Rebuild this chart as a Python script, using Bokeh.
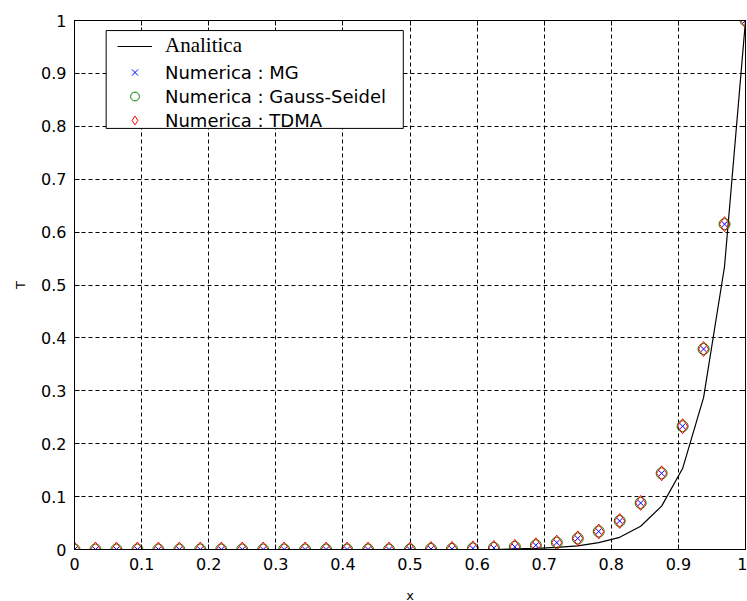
from bokeh.plotting import figure
from bokeh.models import (Legend, LegendItem, FixedTicker, BoxAnnotation,
                          LinearAxis, Range1d)
from bokeh.embed import file_html
from bokeh.resources import INLINE

# ---- data ----
x_nodes = [0, 0.03125, 0.0625, 0.09375, 0.125, 0.15625, 0.1875, 0.21875,
           0.25, 0.28125, 0.3125, 0.34375, 0.375, 0.40625, 0.4375, 0.46875,
           0.5, 0.53125, 0.5625, 0.59375, 0.625, 0.65625, 0.6875, 0.71875,
           0.75, 0.78125, 0.8125, 0.84375, 0.875, 0.90625, 0.9375, 0.96875, 1.0]

t_analitica = [0, 0, 0, 0, 0, 0, 0, 0, 0, 0, 0, 0, 0, 0, 0, 0, 0, 0, 0, 0, 0,
               0.001, 0.002, 0.004, 0.007, 0.013, 0.023, 0.044, 0.082, 0.153,
               0.287, 0.535, 1.0]

t_mg = [0, 0, 0, 0, 0, 0, 0, 0, 0, 0, 0, 0, 0, 0, 0, 0, 0,
        0.001, 0.001, 0.002, 0.003, 0.005, 0.008, 0.013, 0.021, 0.034,
        0.054, 0.088, 0.144, 0.233, 0.379, 0.615, 1.0]
t_gs = [0, 0, 0, 0, 0, 0, 0, 0, 0, 0, 0, 0, 0, 0, 0, 0, 0,
        0.001, 0.001, 0.002, 0.003, 0.005, 0.008, 0.013, 0.021, 0.034,
        0.054, 0.088, 0.144, 0.233, 0.379, 0.615, 1.0]
t_tdma = [0, 0, 0, 0, 0, 0, 0, 0, 0, 0, 0, 0, 0, 0, 0, 0, 0,
          0.001, 0.001, 0.002, 0.003, 0.005, 0.008, 0.013, 0.021, 0.034,
          0.054, 0.088, 0.144, 0.233, 0.379, 0.615, 1.0]

tick_values = [0, 0.1, 0.2, 0.3, 0.4, 0.5, 0.6, 0.7, 0.8, 0.9, 1]
tick_labels = ["0", "0.1", "0.2", "0.3", "0.4", "0.5", "0.6", "0.7", "0.8", "0.9", "1"]

series_labels = ["Analitica", "Numerica : MG", "Numerica : Gauss-Seidel", "Numerica : TDMA"]

# ---- figure ----
p = figure(frame_width=671, frame_height=529,
           x_range=Range1d(0, 1), y_range=Range1d(0, 1),
           output_backend="svg", toolbar_location=None,
           min_border_left=74, min_border_right=2,
           min_border_top=20, min_border_bottom=50,
           background_fill_color="white", border_fill_color="white")
p.outline_line_color = "black"
p.outline_line_alpha = 1
p.outline_line_width = 1

ticker = FixedTicker(ticks=tick_values)
overrides = {t: l for t, l in zip(tick_values, tick_labels)}
blank = {t: "" for t in tick_values}

for ax in (p.xaxis[0], p.yaxis[0]):
    ax.ticker = ticker
    ax.major_label_overrides = overrides
    ax.major_tick_in = 5
    ax.major_tick_out = 0
    ax.minor_tick_in = 0
    ax.minor_tick_out = 0
    ax.axis_line_color = "black"
    ax.major_tick_line_color = "black"
    ax.major_label_text_color = "black"
    ax.major_label_text_font = "DejaVu Sans"
    ax.major_label_text_font_size = "16px"
    ax.axis_label_text_font = "DejaVu Sans"
    ax.axis_label_text_font_size = "13px"
    ax.axis_label_text_font_style = "normal"
    ax.axis_label_text_color = "black"
    ax.major_label_standoff = 8

p.xaxis.axis_label = "x"
p.yaxis.axis_label = "T"
p.xaxis.axis_label_standoff = 15
p.yaxis.axis_label_standoff = 10

for loc in ("right", "above"):
    ax = LinearAxis(ticker=ticker, major_label_overrides=blank,
                    major_label_standoff=0, major_tick_in=5, major_tick_out=0,
                    minor_tick_in=0, minor_tick_out=0,
                    axis_line_color="black", major_tick_line_color="black")
    p.add_layout(ax, loc)

for g in (p.xgrid[0], p.ygrid[0]):
    g.ticker = ticker
    g.grid_line_color = "black"
    g.grid_line_alpha = 1
    g.grid_line_width = 1
    g.grid_line_dash = "4 3"

# ---- series ----
r_line = p.line(x_nodes, t_analitica, line_color="black", line_width=1.2)
r_mg = p.scatter(x_nodes, t_mg, marker="x", size=8, line_color="#0000ff", line_width=1)
r_gs = p.scatter(x_nodes, t_gs, marker="circle", size=11, fill_color=None,
                 line_color="#008000", line_width=1)
r_td = p.scatter(x_nodes, t_tdma, marker="diamond", size=15, fill_color=None,
                 line_color="#ff0000", line_width=1)

# ---- legend ----
box = BoxAnnotation(left=0.0472, right=0.490, bottom=0.796, top=0.981,
                    fill_color="white", fill_alpha=1, line_color="black",
                    line_alpha=1, line_width=1, line_dash="solid")
p.add_layout(box)

legA = Legend(items=[LegendItem(label=series_labels[0], renderers=[r_line])],
              location=(43, 491), padding=0, spacing=0, margin=0,
              glyph_width=35, glyph_height=24, label_height=24, label_standoff=13,
              label_text_font="Liberation Serif", label_text_font_size="21px",
              label_text_color="black",
              border_line_alpha=0, background_fill_alpha=0)
legB = Legend(items=[LegendItem(label=series_labels[1], renderers=[r_mg]),
                     LegendItem(label=series_labels[2], renderers=[r_gs]),
                     LegendItem(label=series_labels[3], renderers=[r_td])],
              location=(43, 418), padding=0, spacing=2, margin=0,
              glyph_width=35, glyph_height=22, label_height=22, label_standoff=13,
              label_text_font="DejaVu Sans", label_text_font_size="18px",
              label_text_color="black",
              border_line_alpha=0, background_fill_alpha=0)
p.add_layout(legA)
p.add_layout(legB)

open("out.html", "w").write(file_html(p, INLINE))
